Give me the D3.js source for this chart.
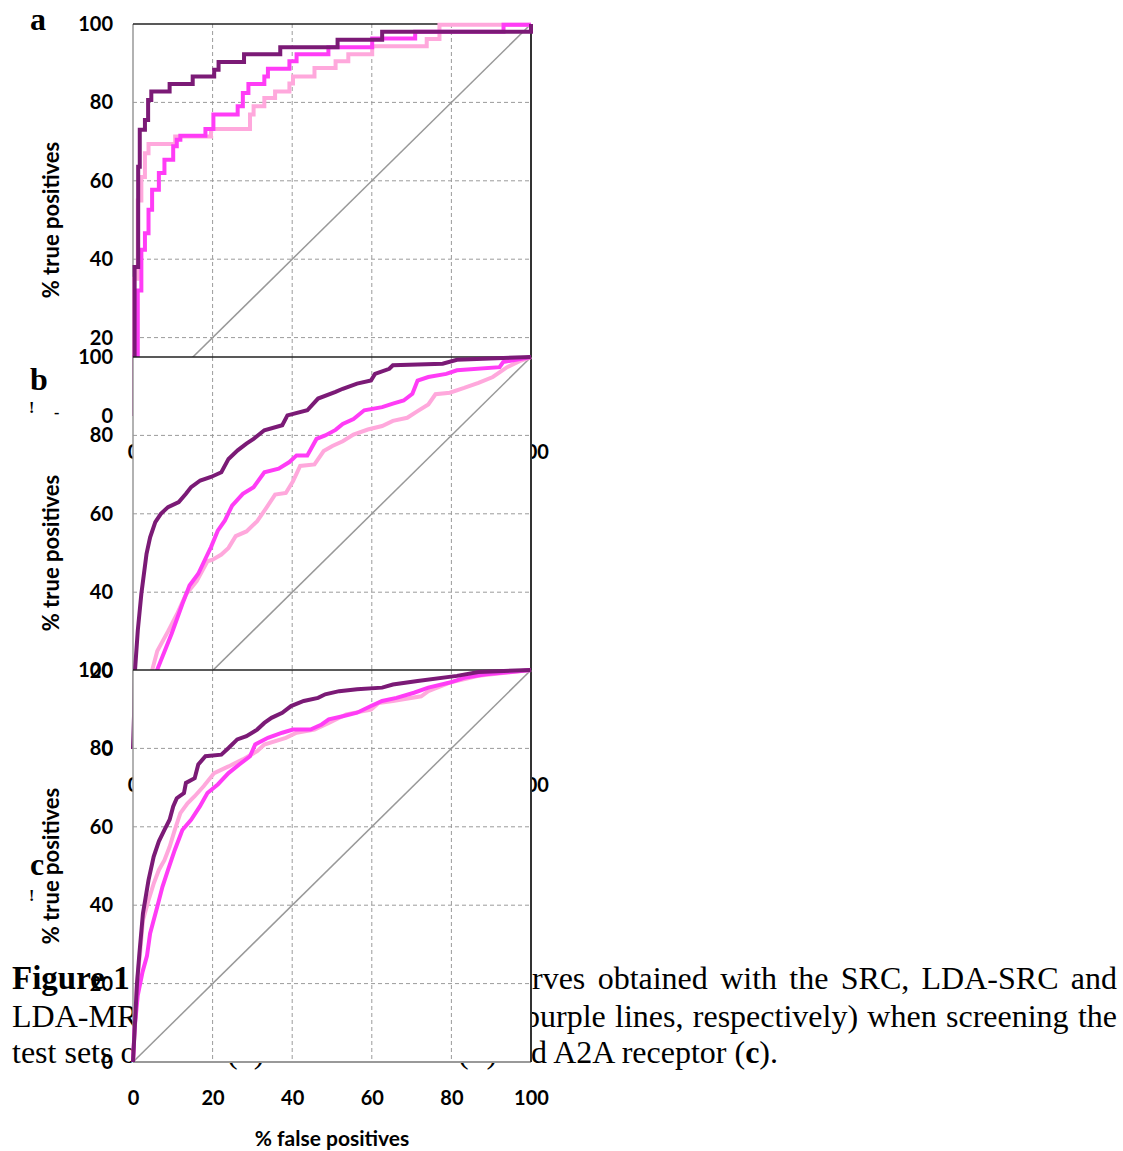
<!DOCTYPE html>
<html>
<head>
<meta charset="utf-8">
<script src="https://cdn.jsdelivr.net/npm/d3@7"></script>
<style>
  body { margin: 0; background: #fff; }
</style>
</head>
<body>
<div id="fig"></div>
<script>
// tick values shared by every panel
const fprTicks = [0, 20, 40, 60, 80, 100];
const tprTicks = [0, 20, 40, 60, 80, 100];
const panelNames = ['a', 'b', 'c'];
const methodNames = ['SRC', 'LDA-SRC', 'LDA-MRC'];

// panel a: [% false positives, % true positives] (step curves)
const aSRC = [[0,0],[0.3,35],[1.2,55],[2.1,61],[3.0,67],[3.9,69.4],[10.6,71.3],[19.6,73.2],[29.4,76.9],[30.3,79],[33,81.1],[35.7,82.8],[39.3,84.8],[40.2,86.6],[45.6,88.8],[50.9,90.5],[54.1,92.3],[60.1,94.3],[73.8,96.2],[77,99.8],[100,100]];
const aLdaSRC = [[0,0],[0.4,15],[1.2,32],[2.1,42.4],[3.0,46.6],[3.9,52.6],[4.8,57.7],[6.5,62],[7.9,65.4],[10.1,68.8],[11,70.5],[11.9,71.5],[18.2,73.2],[20.2,76.9],[26.3,79],[27.6,82.4],[29,84.7],[33,86.6],[33.9,88.6],[39.3,90.5],[41.1,92.3],[49.1,94.1],[60.1,96.3],[70.9,98],[93.1,99.8],[100,100]];
const aLdaMRC = [[0,0],[0.4,38],[1.3,63.6],[1.7,73],[3,75.5],[3.8,80.6],[4.6,82.8],[9.2,84.7],[15,86.6],[20.4,88.3],[21.5,90.3],[27.9,92.3],[37,94.1],[51.4,96],[62.6,98],[100,100]];

// panel b
const bSRC = [[0,0],[2,8],[3.5,15],[4.8,20],[6.1,25],[8.8,30],[11,34.3],[13.3,39.4],[16,42.8],[18.7,47.9],[20,48.3],[22.2,49.6],[24,51.3],[25.8,54.3],[28.5,55.5],[31.2,58.1],[33.5,61.5],[35.7,64.9],[38.4,65.3],[40.2,68.3],[42,72.2],[45.6,72.6],[47.9,76],[50.1,77.3],[52.7,78.5],[55.4,80.2],[59,81.5],[62.6,82.4],[65.3,83.7],[68.9,84.5],[71.5,86.2],[74.2,87.9],[76,90.5],[79.6,90.9],[83.2,92.1],[86.8,93.4],[90.4,94.9],[94,97.4],[97.5,99.1],[100,100]];
const bLdaSRC = [[0,0],[3,8],[4.5,15],[6,20],[9.7,29.4],[12.4,37],[14.2,41.7],[16.4,44.7],[17.8,47.7],[19.6,51.5],[21.3,55.7],[23.1,58.3],[24.9,62.1],[27.6,65.1],[30.3,66.8],[33,70.6],[36.6,71.5],[39.3,73.2],[41.1,74.9],[43.8,74.9],[46.1,79.1],[48.3,80],[50.9,81.4],[52.7,82.9],[55.4,84.2],[58.1,86.4],[62.6,87.2],[65.3,88.1],[68,88.9],[70.2,90.6],[71.5,94],[74.2,94.9],[78.7,95.7],[81.4,96.6],[92.1,97.4],[93,98.7],[100,100]];
const bLdaMRC = [[0,0],[0.3,10],[0.5,20],[1.2,30.2],[2.1,39.6],[3.4,49.8],[4.3,54],[5.6,57.9],[7,60],[8.8,61.7],[11.5,63],[13.3,65.1],[14.6,66.8],[16.9,68.5],[19.6,69.4],[22.2,70.6],[24,74],[26.3,76.2],[28.5,77.9],[30.3,79.1],[33,81.3],[37.5,82.6],[38.8,85.1],[43.8,86.4],[46.5,89.4],[50.9,91.1],[52.7,91.9],[56.3,93.2],[59.8,94],[60.8,95.7],[64.4,97],[65.3,97.9],[77.8,98.3],[81.4,99.3],[100,100]];

// panel c
const cSRC = [[0,0],[0.5,10],[1,20],[1.8,28],[2.5,36.2],[3.9,41.3],[5.2,45.5],[6.5,49],[7.9,51.5],[9.2,54.9],[10.5,59.2],[11.9,63.5],[13.7,66],[15.5,67.8],[17.8,70.4],[20.4,73.7],[24,75.4],[27.6,77.2],[31.2,79.3],[33,81],[38.4,82.7],[41.1,84],[45.6,84.8],[49.2,86.5],[53.6,88.7],[59.8,89.9],[61.7,91.6],[65.3,92.1],[72.4,93.3],[74.2,94.6],[79.6,96.8],[86.8,98.5],[100,100]];
const cLdaSRC = [[0,0],[0.4,8.5],[1.2,17],[2.4,23],[3.5,27],[4.3,32.8],[6.1,39.6],[7.4,44.7],[8.8,49],[10.5,54.1],[12.4,59.2],[14.6,61.8],[16.8,65.2],[18.7,68.6],[21.3,70.8],[24,73.7],[26.7,75.9],[29.4,78],[30.7,81],[33.9,82.7],[37.5,84],[40.2,84.8],[44.6,84.8],[47.4,86.1],[49.2,87.4],[52.7,88.2],[56.3,89.1],[59.8,90.8],[62.6,92.1],[66.2,92.9],[70.6,94.2],[74.2,95.5],[79.6,96.8],[83.2,98],[88.6,98.9],[100,100]];
const cLdaMRC = [[0,0],[0.5,10],[1,20],[1.6,27.6],[2.5,37.9],[3.9,46.4],[5.2,52.4],[6.5,56.3],[7.9,59.2],[9.2,61.8],[10.1,65.2],[11,67.3],[12.8,68.6],[13.3,71.2],[15.5,72.4],[16.4,75.9],[18.2,78],[22.2,78.4],[24,80.1],[26.2,82.3],[28.5,83.1],[31.2,84.8],[33,86.5],[34.8,87.8],[37.5,89.1],[39.7,90.8],[42.9,92.1],[46.5,92.9],[48.3,93.8],[51.8,94.6],[56.3,95.1],[62.6,95.5],[65.3,96.3],[71.5,97.2],[81.4,98.5],[86.8,99.5],[100,100]];

const colors = ['#ffa8dc', '#ff3cf6', '#7b1a76'];

const width = 1123, height = 1151;
const svg = d3.select('#fig').append('svg')
    .attr('width', width)
    .attr('height', height);

const serif = "'Liberation Serif', 'Times New Roman', serif";
const sans = "Lato, 'Open Sans', sans-serif";

// caption goes underneath, the panels cover parts of it
const cap = svg.append('g').attr('font-family', serif).attr('font-size', 32);

function justifyFrom(sel, str, cutChars, xCut, xEnd, y) {
    //places the text so char index cutChars starts at xCut and the line ends at xEnd
    const t = sel.append('text').attr('x', 0).attr('y', y).text(str);
    const node = t.node();
    const total = node.getComputedTextLength();
    const pre = cutChars > 0 ? node.getSubStringLength(0, cutChars) : 0;
    const restStr = str.slice(cutChars);
    const preSpaces = (str.slice(0, cutChars).match(/ /g) || []).length;
    const restSpaces = (restStr.match(/ /g) || []).length;
    const ws = (xEnd - xCut - (total - pre)) / Math.max(restSpaces, 1);
    t.attr('word-spacing', ws).attr('x', xCut - (pre + ws * preSpaces));
    return t;
}

cap.append('text').attr('x', 12).attr('y', 989).attr('font-weight', 'bold')
    .attr('font-size', 33).text('Figure 1');
justifyFrom(cap, 'curves obtained with the SRC, LDA-SRC and', 2, 532, 1117, 989);

cap.append('text').attr('x', 12).attr('y', 1027).text('LDA-MRC');
justifyFrom(cap, 'purple lines, respectively) when screening the', 0, 524, 1117, 1027);

cap.append('text').attr('x', 12).attr('y', 1063).text('test sets of');
const pa = cap.append('text').attr('x', 227).attr('y', 1063);
pa.append('tspan').text('(');
pa.append('tspan').attr('font-weight', 'bold').text('a');
pa.append('tspan').text(')');
const pb = cap.append('text').attr('x', 458).attr('y', 1063);
pb.append('tspan').text('(');
pb.append('tspan').attr('font-weight', 'bold').text('b');
pb.append('tspan').text(')');
const last = cap.append('text').attr('x', 778).attr('y', 1063).attr('text-anchor', 'end');
last.append('tspan').text('and A2A receptor (');
last.append('tspan').attr('font-weight', 'bold').text('c');
last.append('tspan').text(').');

// panels
const panels = [
    {name: 'a', top: 24, series: [aSRC, aLdaSRC, aLdaMRC], step: true},
    {name: 'b', top: 357, series: [bSRC, bLdaSRC, bLdaMRC], step: false},
    {name: 'c', top: 670, series: [cSRC, cLdaSRC, cLdaMRC], step: false}
];

const plotH = 392;
const x = d3.scaleLinear().domain([0, 100]).range([133, 531]);

panels.forEach(p => {
    const y = d3.scaleLinear().domain([0, 100]).range([p.top + plotH, p.top]);
    const g = svg.append('g').attr('class', 'panel-' + p.name);
    const bottom = p.top + plotH;

    //axis labels (outside the plot area, not painted over)
    const yAx = g.append('g')
        .attr('transform', `translate(${x(0)},0)`)
        .call(d3.axisLeft(y).tickValues(tprTicks).tickSize(0).tickPadding(20));
    const xAx = g.append('g')
        .attr('transform', `translate(0,${bottom})`)
        .call(d3.axisBottom(x).tickValues(fprTicks).tickSize(0).tickPadding(29));
    [yAx, xAx].forEach(ax => {
        ax.select('.domain').remove();
        ax.selectAll('text')
            .attr('font-family', sans)
            .attr('font-weight', 'bold')
            .attr('font-size', 20)
            .attr('fill', '#000');
    });

    g.append('text')
        .attr('transform', `translate(59,${(p.top + bottom) / 2}) rotate(-90)`)
        .attr('text-anchor', 'middle')
        .attr('font-family', sans)
        .attr('font-weight', 'bold')
        .attr('font-size', 22)
        .text('% true positives');
    g.append('text')
        .attr('x', (x(0) + x(100)) / 2)
        .attr('y', bottom + 84)
        .attr('text-anchor', 'middle')
        .attr('font-family', sans)
        .attr('font-weight', 'bold')
        .attr('font-size', 21)
        .text('% false positives');

    //white plot area
    g.append('rect')
        .attr('x', x(0)).attr('y', p.top)
        .attr('width', x(100) - x(0)).attr('height', plotH)
        .attr('fill', '#fff');

    //dashed grid
    g.selectAll('.vgrid')
        .data(fprTicks.slice(1, -1))
        .enter()
        .append('line')
        .attr('x1', d => x(d)).attr('x2', d => x(d))
        .attr('y1', p.top).attr('y2', bottom)
        .attr('stroke', '#9b9b9b')
        .attr('stroke-dasharray', '4,3');
    g.selectAll('.hgrid')
        .data(tprTicks.slice(1, -1))
        .enter()
        .append('line')
        .attr('x1', x(0)).attr('x2', x(100))
        .attr('y1', d => y(d)).attr('y2', d => y(d))
        .attr('stroke', '#9b9b9b')
        .attr('stroke-dasharray', '4,3');

    //borders
    g.append('line').attr('x1', x(0)).attr('x2', x(0)).attr('y1', p.top).attr('y2', bottom)
        .attr('stroke', '#999').attr('stroke-width', 1.5);
    g.append('line').attr('x1', x(0)).attr('x2', x(100)).attr('y1', bottom).attr('y2', bottom)
        .attr('stroke', '#999').attr('stroke-width', 2);
    g.append('line').attr('x1', x(0)).attr('x2', x(100)).attr('y1', p.top).attr('y2', p.top)
        .attr('stroke', '#222').attr('stroke-width', 1.5);
    g.append('line').attr('x1', x(100)).attr('x2', x(100)).attr('y1', p.top).attr('y2', bottom)
        .attr('stroke', '#333').attr('stroke-width', 2);

    //diagonal
    g.append('line')
        .attr('x1', x(0)).attr('y1', y(0))
        .attr('x2', x(100)).attr('y2', y(100))
        .attr('stroke', '#999')
        .attr('stroke-width', 1.5);

    //ROC curves
    const line = d3.line()
        .x(d => x(d[0]))
        .y(d => y(d[1]))
        .curve(p.step ? d3.curveStepAfter : d3.curveLinear);
    g.selectAll('.roc')
        .data(p.series)
        .enter()
        .append('path')
        .attr('class', (d, i) => 'roc ' + methodNames[i])
        .attr('d', line)
        .attr('fill', 'none')
        .attr('stroke', (d, i) => colors[i])
        .attr('stroke-width', 4);
});

// panel letters
const letterY = [30, 390, 875];
svg.selectAll('.letter')
    .data(panelNames)
    .enter()
    .append('text')
    .attr('class', 'letter')
    .attr('x', 30)
    .attr('y', (d, i) => letterY[i])
    .attr('font-family', serif)
    .attr('font-weight', 'bold')
    .attr('font-size', 32)
    .text(d => d);

// small leftover marks next to b and c
svg.append('text').attr('x', 29).attr('y', 413).attr('font-family', serif)
    .attr('font-weight', 'bold').attr('font-size', 16).text('!');
svg.append('text').attr('x', 54).attr('y', 418).attr('font-family', serif)
    .attr('font-weight', 'bold').attr('font-size', 16).text('-');
svg.append('text').attr('x', 29).attr('y', 901).attr('font-family', serif)
    .attr('font-weight', 'bold').attr('font-size', 16).text('!');
</script>
</body>
</html>
